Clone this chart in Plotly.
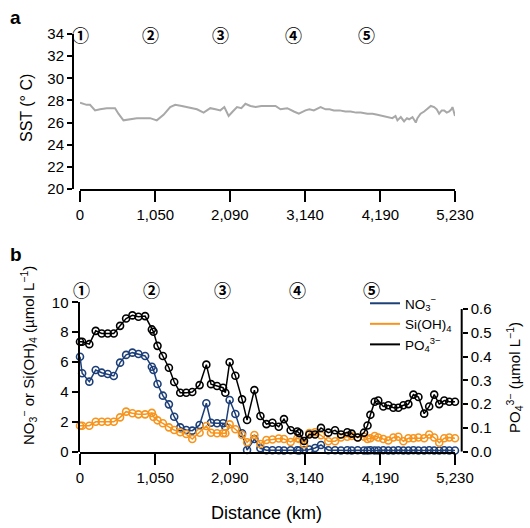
import plotly.graph_objects as go

# panel a: sea surface temperature along the transect
sst_km = [0, 93, 140, 210, 280, 373, 489, 536, 606, 699, 792, 885, 978, 1071, 1165, 1258, 1328, 1420, 1491, 1560,
          1631, 1724, 1817, 1890, 1957, 2013, 2073, 2130, 2190, 2250, 2307, 2377, 2450, 2530, 2610, 2680, 2727, 2796,
          2890, 2983, 3052, 3145, 3200, 3261, 3355, 3425, 3480, 3541, 3620, 3700, 3775, 3850, 3915, 4008, 4080, 4148,
          4220, 4288, 4357, 4400, 4427, 4474, 4520, 4560, 4590, 4637, 4683, 4706, 4750, 4800, 4893, 4939, 4975, 5009,
          5045, 5079, 5115, 5149, 5180, 5195, 5215, 5230]
sst = [27.8, 27.6, 27.6, 27.1, 27.2, 27.3, 27.3, 26.8, 26.2, 26.3, 26.4, 26.4, 26.4, 26.2, 26.7, 27.4, 27.6, 27.5,
       27.4, 27.3, 27.2, 26.9, 27.3, 27.2, 27.1, 27.4, 26.6, 27.0, 27.4, 27.3, 27.7, 27.5, 27.4, 27.5, 27.5, 27.5,
       27.5, 27.2, 27.3, 27.0, 26.8, 27.1, 27.2, 27.1, 27.4, 27.2, 27.2, 27.1, 27.1, 27.0, 27.0, 26.9, 26.9, 26.8,
       26.8, 26.7, 26.6, 26.5, 26.4, 26.6, 26.2, 26.5, 26.1, 26.4, 26.3, 26.5, 26.0, 26.4, 26.8, 27.0, 27.5, 27.4,
       27.2, 26.8, 27.1, 27.1, 26.9, 27.0, 27.2, 27.4, 26.9, 26.6]

# panel b: nutrient stations
dist = [0, 30, 130, 219, 303, 387, 471, 559, 643, 731, 815, 908, 1002, 1025, 1081, 1156, 1240, 1314, 1398, 1482,
        1566, 1668, 1762, 1827, 1911, 1995, 2027, 2087, 2167, 2260, 2330, 2432, 2516, 2600, 2684, 2772, 2845, 2938,
        3031, 3059, 3124, 3198, 3278, 3361, 3463, 3557, 3640, 3728, 3789, 3873, 3961, 4010, 4050, 4110, 4160, 4230,
        4300, 4370, 4440, 4510, 4580, 4650, 4720, 4800, 4870, 4940, 5010, 5080, 5150, 5230]
no3 = [6.36, 5.25, 4.69, 5.47, 5.29, 5.2, 5.07, 5.96, 6.48, 6.63,
       6.54, 6.41, 5.69, 5.47, 4.53, 3.75, 3.17, 2.34, 1.63, 1.45,
       1.41, 1.79, 3.24, 1.94, 1.9, 1.9, 1.67, 3.46, 2.52, 1.23,
       0.11, 0.85, 0.23, 0.1, 0.1, 0.1, 0.08, 0.1, 0.1, 0.08,
       0.1, 0.15, 0.25, 0.45, 0.1, 0.1, 0.08, 0.1, 0.08, 0.1,
       0.08, 0.08, 0.1, 0.08, 0.08, 0.1, 0.08, 0.08, 0.1, 0.08,
       0.08, 0.1, 0.08, 0.08, 0.1, 0.08, 0.08, 0.1, 0.08, 0.08]
sioh4 = [1.74, 1.74, 1.74, 2.0, 2.0, 2.0, 2.0, 2.3, 2.68, 2.57,
         2.5, 2.5, 2.6, 2.33, 2.1, 1.9, 1.63, 1.45, 1.3, 1.18,
         0.85, 1.27, 1.72, 1.27, 1.23, 1.23, 1.23, 1.83, 1.5, 1.12,
         0.63, 1.12, 0.52, 0.78, 0.82, 0.88, 0.85, 0.65, 0.9, 0.85,
         0.5, 1.25, 1.3, 1.1, 0.7, 0.7, 0.95, 1.0, 1.05, 0.95,
         1.0, 0.85, 0.9, 1.05, 0.95, 0.85, 0.75, 0.95, 1.0, 0.7,
         0.9, 0.9, 0.95, 0.9, 1.15, 0.95, 0.6, 0.9, 0.95, 0.9]
po4 = [0.462, 0.462, 0.452, 0.508, 0.497, 0.497, 0.497, 0.529, 0.560, 0.573,
       0.567, 0.570, 0.514, 0.504, 0.445, 0.402, 0.353, 0.293, 0.248, 0.248,
       0.251, 0.280, 0.366, 0.284, 0.276, 0.269, 0.248, 0.376, 0.319, 0.220,
       0.133, 0.259, 0.150, 0.116, 0.122, 0.105, 0.137, 0.09, 0.085, 0.078,
       0.045, 0.072, 0.072, 0.10, 0.08, 0.09, 0.072, 0.082, 0.076, 0.06,
       0.08, 0.11, 0.155, 0.21, 0.215, 0.19, 0.195, 0.185, 0.185, 0.195,
       0.20, 0.24, 0.23, 0.16, 0.19, 0.24, 0.20, 0.215, 0.21, 0.21]

xticks = [0, 1050, 2090, 3140, 4190, 5230]
xtick_text = ["0", "1,050", "2,090", "3,140", "4,190", "5,230"]
stations = ["①", "②", "③", "④", "⑤"]
station_km_a = [0, 980, 1960, 2975, 4000]
station_km_b = [25, 1000, 1990, 3040, 4060]

BLUE = "#1d3f78"
ORANGE = "#f7941d"
FONT = "Liberation Sans, Arial, sans-serif"
W, H = 530, 528

def px(x):
    return x / W

def py(y):
    return (H - y) / H

fig = go.Figure()

fig.add_trace(go.Scatter(x=sst_km, y=sst, mode="lines", line=dict(color="#a8a8a8", width=2),
                         xaxis="x", yaxis="y", showlegend=False))

series = [("NO<sub>3</sub><sup>−</sup>", no3, BLUE, "y2"),
          ("Si(OH)<sub>4</sub>", sioh4, ORANGE, "y2"),
          ("PO<sub>4</sub><sup>3−</sup>", po4, "black", "y3")]
for name, vals, col, yax in series:
    fig.add_trace(go.Scatter(x=dist, y=vals, mode="lines+markers", xaxis="x2", yaxis=yax,
                             line=dict(color=col, width=1.5),
                             marker=dict(symbol="circle-open", size=7, color=col, line=dict(width=1.6)),
                             cliponaxis=False, showlegend=False))
# legend entries show only a line
for name, vals, col, yax in series:
    fig.add_trace(go.Scatter(x=[None], y=[None], mode="lines", name=name, xaxis="x2", yaxis=yax,
                             line=dict(color=col, width=2)))

xdom = [px(80), px(455)]
axis_common = dict(showgrid=False, zeroline=False, showline=True, linecolor="black", linewidth=2,
                   ticks="outside", tickcolor="black", tickwidth=2, automargin=False,
                   tickfont=dict(size=15, color="black", family=FONT))

fig.update_layout(
    width=W, height=H, margin=dict(l=0, r=0, t=0, b=0),
    paper_bgcolor="white", plot_bgcolor="white",
    font=dict(family=FONT, color="black"),
    xaxis=dict(domain=xdom, range=[0, 5230], anchor="y", tickvals=xticks, ticktext=xtick_text,
               ticklen=11, **axis_common),
    yaxis=dict(domain=[py(189), py(34)], range=[20, 34], anchor="free", position=px(73),
               tickvals=list(range(20, 35, 2)), ticklen=5, **axis_common),
    xaxis2=dict(domain=xdom, range=[0, 5230], anchor="y2", tickvals=xticks, ticktext=xtick_text,
                ticklen=11, **axis_common),
    yaxis2=dict(domain=[py(451.7), py(302.3)], range=[0, 10], anchor="free", position=px(78.5),
                tickvals=[0, 2, 4, 6, 8, 10], ticklen=6, **axis_common),
    yaxis3=dict(range=[0, 0.628], overlaying="y2", side="right", anchor="free", position=px(461.7),
                tickvals=[0, 0.1, 0.2, 0.3, 0.4, 0.5, 0.6], tickformat=".1f", ticklen=5,
                **{**axis_common, "showline": False}),
    legend=dict(x=px(365), y=py(288), xanchor="left", yanchor="top", bgcolor="rgba(0,0,0,0)",
                font=dict(size=13.5, family=FONT), tracegroupgap=0, itemwidth=30),
)

# right axis spine stops at 0.6
fig.add_shape(type="line", xref="paper", yref="y3", x0=px(461.7), x1=px(461.7), y0=0, y1=0.6,
              line=dict(color="black", width=2))

ann = []
ann.append(dict(text="<b>a</b>", x=px(8), y=py(17), xanchor="left", yanchor="middle", font=dict(size=19)))
ann.append(dict(text="<b>b</b>", x=px(8), y=py(255), xanchor="left", yanchor="middle", font=dict(size=19)))
ann.append(dict(text="SST (° C)", x=px(26), y=py(108), textangle=-90, font=dict(size=16)))
ann.append(dict(text="NO<sub>3</sub><sup>−</sup> or Si(OH)<sub>4</sub> (µmol L<sup>−1</sup>)",
                x=px(28), y=py(356), textangle=-90, font=dict(size=15)))
ann.append(dict(text="PO<sub>4</sub><sup>3−</sup> (µmol L<sup>−1</sup>)",
                x=px(515), y=py(378), textangle=-90, font=dict(size=15)))
ann.append(dict(text="Distance (km)", x=px(266), y=py(513), font=dict(size=18)))
for lab, xa, xb in zip(stations, station_km_a, station_km_b):
    ann.append(dict(text="<b>" + lab + "</b>", x=xa, xref="x", y=py(34),
                    font=dict(size=17, family="Noto Sans CJK JP")))
    ann.append(dict(text="<b>" + lab + "</b>", x=xb, xref="x2", y=py(289),
                    font=dict(size=17, family="Noto Sans CJK JP")))
for a in ann:
    a.setdefault("xref", "paper")
    a.setdefault("yref", "paper")
    a["showarrow"] = False
    a.setdefault("xanchor", "center")
    a.setdefault("yanchor", "middle")
fig.update_layout(annotations=ann)

fig.write_html("out.html", config={"displayModeBar": False},
               post_script="document.body.style.margin='0px';document.body.style.overflow='hidden';")
